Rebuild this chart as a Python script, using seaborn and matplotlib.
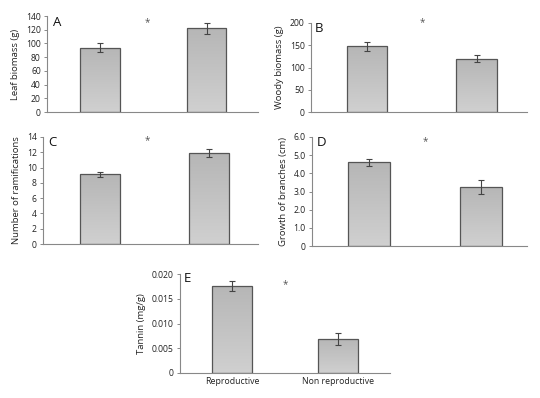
import numpy as np
import pandas as pd
import matplotlib
matplotlib.use("Agg")
import matplotlib.pyplot as plt
import seaborn as sns

sns.set_style("white")
plt.rcParams['font.family'] = ['Open Sans', 'DejaVu Sans']

groups = ["Reproductive", "Non reproductive"]

leaf_mean = [94, 122]
leaf_err = [6, 8]
woody_mean = [148, 120]
woody_err = [10, 7]
ramif_mean = [9.1, 11.9]
ramif_err = [0.3, 0.5]
growth_mean = [4.6, 3.25]
growth_err = [0.2, 0.4]
tannin_mean = [0.0176, 0.0069]
tannin_err = [0.0010, 0.0012]

W, H = 540, 398
fig = plt.figure(figsize=(W / 100, H / 100), dpi=100)

def px_axes(x0, x1, ytop, ybot):
    return fig.add_axes([x0 / W, 1 - ybot / H, (x1 - x0) / W, (ybot - ytop) / H])

panels = [
    dict(box=(47, 258, 16, 112), mean=leaf_mean, err=leaf_err, ylim=140, step=20,
         fmt=lambda v: f"{v:.0f}", ylabel="Leaf biomass (g)", letter="A",
         xlim=(-0.495, 1.48), star=(147, 23), lab=(53, 22)),
    dict(box=(311, 527, 23, 112), mean=woody_mean, err=woody_err, ylim=200, step=50,
         fmt=lambda v: f"{v:.0f}", ylabel="Woody biomass (g)", letter="B",
         xlim=(-0.51, 1.46), star=(422, 23), lab=(315, 28)),
    dict(box=(43, 258, 137, 244), mean=ramif_mean, err=ramif_err, ylim=14, step=2,
         fmt=lambda v: f"{v:.0f}", ylabel="Number of ramifications", letter="C",
         xlim=(-0.52, 1.45), star=(147, 141), lab=(48, 142)),
    dict(box=(312, 527, 137, 246), mean=growth_mean, err=growth_err, ylim=6, step=1,
         fmt=lambda v: "0" if v == 0 else f"{v:.1f}", ylabel="Growth of branches (cm)", letter="D",
         xlim=(-0.51, 1.41), star=(425, 142), lab=(317, 142)),
    dict(box=(180, 390, 274, 373), mean=tannin_mean, err=tannin_err, ylim=0.020, step=0.005,
         fmt=lambda v: "0" if v == 0 else f"{v:.3f}", ylabel="Tannin (mg/g)", letter="E",
         xlim=(-0.49, 1.49), star=(285, 285), lab=(184, 279)),
]

grad = np.linspace(0, 1, 256).reshape(-1, 1)
cmap = matplotlib.colors.LinearSegmentedColormap.from_list("g", ["#d0d0d0", "#b6b6b6"])

for p in panels:
    ax = px_axes(*p["box"])
    df = pd.DataFrame({"group": groups, "value": p["mean"]})
    sns.barplot(data=df, x="group", y="value", ax=ax, width=0.37, color="#c0c0c0",
                edgecolor="#555555", linewidth=0.9, errorbar=None, saturation=1)
    for patch in ax.patches:
        x0, y0 = patch.get_x(), patch.get_y()
        w, h = patch.get_width(), patch.get_height()
        im = ax.imshow(grad, extent=[x0, x0 + w, y0, y0 + h], origin="lower",
                       cmap=cmap, aspect="auto", zorder=patch.get_zorder() - 0.1)
        im.set_clip_path(patch)
        patch.set_facecolor("none")
    ax.set_xlim(*p["xlim"])
    ax.set_ylim(0, p["ylim"])
    ax.errorbar(range(len(groups)), p["mean"], yerr=p["err"], fmt="none",
                ecolor="#444444", elinewidth=0.8, capsize=2.2, capthick=0.8, zorder=5)
    ticks = np.arange(0, p["ylim"] + p["step"] / 2, p["step"])
    ax.set_yticks(ticks)
    ax.set_yticklabels([p["fmt"](t) for t in ticks], fontsize=6.2, color="#222222")
    ax.tick_params(axis="y", length=2.5, width=0.6, color="#777777", pad=2, left=True)
    ax.set_ylabel(p["ylabel"], fontsize=6.8, color="#222222", labelpad=4)
    ax.set_xlabel("")
    if p["letter"] == "E":
        ax.set_xticks(range(len(groups)))
        ax.set_xticklabels(groups, fontsize=6.3, color="#222222")
        ax.tick_params(axis="x", length=0, pad=3)
    else:
        ax.set_xticks([])
    for s in ["top", "right"]:
        ax.spines[s].set_visible(False)
    for s in ["left", "bottom"]:
        ax.spines[s].set_color("#888888")
        ax.spines[s].set_linewidth(0.8)
    fig.text(p["lab"][0] / W, 1 - p["lab"][1] / H, p["letter"], fontsize=9.5,
             color="#111111", va="center", ha="left")
    fig.text(p["star"][0] / W, 1 - p["star"][1] / H, "*", fontsize=7,
             color="#555555", va="center", ha="center")

fig.savefig("out.png", dpi=100, facecolor="white")
